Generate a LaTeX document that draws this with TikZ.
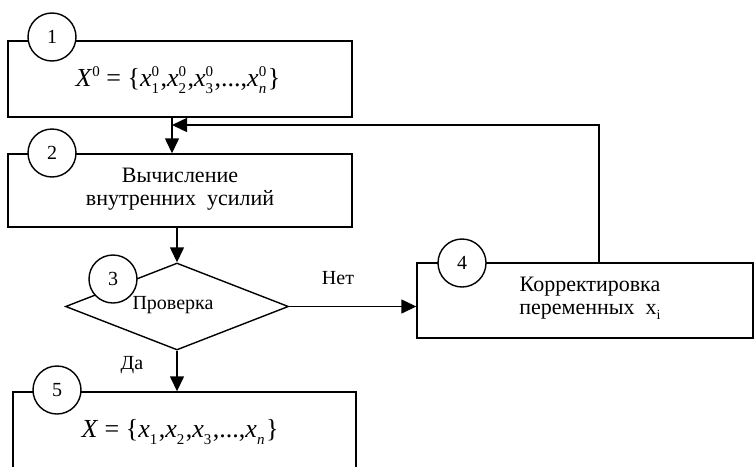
\documentclass[tikz,border=0pt]{standalone}
\usepackage{fontspec}
\setmainfont{Liberation Serif}
\usetikzlibrary{shapes.geometric,arrows.meta}
\newcommand\fs[1]{\fontsize{#1}{#1}\selectfont}
\newcommand\xv[2]{\textit{x}\rlap{\raisebox{0.4em}{\fs{15}#2}}\raisebox{-0.26em}{\fs{15}#1}\hspace{1.5pt}}
\tikzset{
  blk/.style={draw, line width=1.4pt, fill=white, inner sep=0pt},
  num/.style={draw, circle, line width=1.4pt, fill=white, minimum size=48pt, inner sep=0pt, font=\fs{20}},
  dia/.style={draw, diamond, line width=1.4pt, inner sep=0pt, minimum width=223pt, minimum height=87pt},
  txt/.style={font=\fs{22}, align=center, inner sep=0pt},
  lbl/.style={font=\fs{20}, inner sep=0pt},
  arr/.style={line width=1.4pt, -{Triangle[length=15pt,width=14pt]}},
  ln/.style={line width=1.4pt}
}
\begin{document}
\begin{tikzpicture}[x=1pt,y=-1pt]
\clip (0,0) rectangle (755,466);
\fill[white] (0,0) rectangle (755,466);
% blocks
\node[blk, minimum width=344pt, minimum height=76pt] (b1) at (180,79) {};
\node[blk, minimum width=344pt, minimum height=73pt] (b2) at (180,190.5) {};
\node[dia] (d3) at (177,306.5) {};
\node[blk, minimum width=336pt, minimum height=75pt] (b4) at (585,300.5) {};
\node[blk, minimum width=343pt, minimum height=110pt] (b5) at (184.5,447) {};
% texts
\node[txt] (t1) at (178,80) {\fs{26}\textit{X}\raisebox{0.4em}{\fs{15}0} = \{\xv{1}{0},\xv{2}{0},\xv{3}{0},...,\xv{\textit{n}}{0}\}};
\node[txt] (t2a) at (180,175) {Вычисление};
\node[txt] (t2b) at (180,200) {внутренних\ \ усилий};
\node[lbl] (t3) at (173,305) {Проверка};
\node[txt] (t4a) at (590,287) {Корректировка};
\node[txt] (t4b) at (590,312) {переменных\ \ x\raisebox{-0.25em}{\fs{14}i}};
\node[txt] (t5) at (180,432) {\fs{26}\textit{X} = \{\xv{1}{},\xv{2}{},\xv{3}{},...,\xv{\textit{n}}{}\}};
\node[lbl] (lno) at (338,278) {Нет};
\node[lbl] (lyes) at (132,365) {Да};
% numbers
\node[num] (c1) at (52,37) {1};
\node[num] (c2) at (52,153) {2};
\node[num] (c3) at (113,279) {3};
\node[num] (c4) at (462,263) {4};
\node[num] (c5) at (57,390) {5};
% connectors
\coordinate (fx) at (172,0);
\coordinate (fb) at (172,125);
\coordinate (up) at (599,0);
\draw[arr] (b1.south -| fx) -- (b2.north -| fx);
\draw[arr] (b4.north -| up) |- (fb);
\draw[arr] (b2.south -| d3.north) -- (d3.north);
\draw[arr] (d3.east) -- (d3.east -| b4.west);
\draw[arr] (d3.south) -- (b5.north -| d3.south);
\end{tikzpicture}
\end{document}
